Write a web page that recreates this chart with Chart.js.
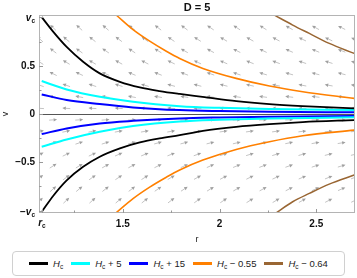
<!DOCTYPE html>
<html>
<head>
<meta charset="utf-8">
<script src="https://cdn.jsdelivr.net/npm/chart.js@4/dist/chart.umd.min.js"></script>
<style>
  body { margin: 0; background: #fff; font-family: "Liberation Sans", Arial, sans-serif; }
  #wrap { position: relative; width: 357px; height: 278px; }
  #chart { position: absolute; left: 0; top: 0; }
  #legend { position: absolute; left: 12px; top: 251px; width: 333px; height: 25px; box-sizing: border-box;
    border: 1px solid #d0d0d0; border-radius: 4px; display: flex; align-items: center; justify-content: center;
    font-size: 9.5px; color: #222; white-space: nowrap; }
  .item { display: flex; align-items: center; margin: 0 4px; }
  .swatch { width: 19px; height: 3px; margin-right: 5px; }
  .item sub { font-size: 6.5px; vertical-align: -2px; }
</style>
</head>
<body>
<div id="wrap">
  <canvas id="chart" width="357" height="245"></canvas>
  <div id="legend"></div>
</div>
<script>
// critical point and axis range
const rc = 1.082, vc = 1.01;
const rMin = 1.067, rMax = 2.7, vMin = -1.03, vMax = 1.03;

const xTickValues = [rc, 1.25, 1.5, 1.75, 2, 2.25, 2.5];
const xTickLabels = ['', '', '1.5', '', '2', '', '2.5'];
const yTickValues = [-vc, -0.75, -0.5, -0.25, 0, 0.25, 0.5, 0.75, vc];
const yTickLabels = ['', '', '\u22120.5', '', '0', '', '0.5', '', ''];

// H = Hc
const blackUpR = [1.081, 1.141, 1.21, 1.295, 1.381, 1.485, 1.588, 1.69, 1.794, 1.912, 2.087, 2.258, 2.428, 2.696];
const blackUpV = [1.01, 0.857, 0.70, 0.545, 0.424, 0.336, 0.278, 0.24, 0.21, 0.18, 0.135, 0.104, 0.083, 0.059];
const blackLoR = [1.084, 1.141, 1.21, 1.295, 1.381, 1.485, 1.588, 1.69, 1.794, 1.914, 2.086, 2.258, 2.43, 2.696];
const blackLoV = [-1.01, -0.85, -0.69, -0.549, -0.444, -0.357, -0.295, -0.253, -0.219, -0.174, -0.132, -0.104, -0.083, -0.062];
// H = Hc + 5
const cyanUpR = [1.081, 1.21, 1.381, 1.553, 1.794, 2.0, 2.258, 2.696];
const cyanUpV = [0.344, 0.257, 0.18, 0.128, 0.083, 0.065, 0.052, 0.042];
const cyanLoR = [1.081, 1.21, 1.381, 1.553, 1.794, 2.0, 2.258, 2.696];
const cyanLoV = [-0.34, -0.264, -0.184, -0.125, -0.078, -0.06, -0.047, -0.034];
// H = Hc + 15
const blueUpR = [1.081, 1.21, 1.381, 1.553, 1.794, 2.0, 2.258, 2.696];
const blueUpV = [0.205, 0.146, 0.104, 0.07, 0.042, 0.032, 0.025, 0.018];
const blueLoR = [1.081, 1.21, 1.381, 1.553, 1.794, 2.0, 2.258, 2.696];
const blueLoV = [-0.208, -0.149, -0.097, -0.07, -0.045, -0.035, -0.027, -0.02];
// H = Hc - 0.55
const orangeUpR = [1.467, 1.553, 1.639, 1.725, 1.794, 1.914, 2.086, 2.258, 2.43, 2.696];
const orangeUpV = [1.03, 0.88, 0.76, 0.655, 0.58, 0.476, 0.372, 0.292, 0.233, 0.164];
const orangeLoR = [1.464, 1.553, 1.639, 1.725, 1.794, 1.914, 2.086, 2.258, 2.43, 2.696];
const orangeLoV = [-1.03, -0.88, -0.76, -0.657, -0.582, -0.479, -0.368, -0.288, -0.226, -0.167];
// H = Hc - 0.64
const brownUpR = [2.284, 2.378, 2.464, 2.567, 2.696];
const brownUpV = [1.03, 0.927, 0.84, 0.736, 0.632];
const brownLoR = [2.284, 2.378, 2.464, 2.567, 2.696];
const brownLoV = [-1.04, -0.913, -0.826, -0.729, -0.635];

const seriesNames = ['', ' + 5', ' + 15', ' \u2212 0.55', ' \u2212 0.64'];
const seriesColors = ['#000000', '#00ffff', '#0000ff', '#ff8000', '#996633'];
const seriesWidths = [1.8, 2, 2, 1.6, 1.5];

// vector field grid (staggered rows)
const arrowRowsV = [0.90, 0.78, 0.66, 0.54, 0.42, 0.30, 0.18, 0.06, -0.06, -0.18, -0.30, -0.42, -0.54, -0.66, -0.78, -0.90];
const arrowColsA = [1.072, 1.208, 1.343, 1.479, 1.614, 1.75, 1.886, 2.021, 2.157, 2.292, 2.428, 2.564, 2.699];
const arrowColsB = [1.140, 1.275, 1.411, 1.547, 1.682, 1.818, 1.953, 2.089, 2.225, 2.36, 2.496, 2.631];
// tilt in degrees for |v| = 0.90 ... 0.06, at left and right edge
const arrowTiltLeft = [45, 42, 38, 33, 27, 20, 12, 4];
const arrowTiltRight = [26, 23, 20, 16, 13, 9, 6, 2];

const FONT = '"Liberation Sans", Arial, sans-serif';

function pts(rs, vs) {
  return rs.map((r, i) => ({ x: r, y: vs[i] }));
}

const curves = [
  [blackUpR, blackUpV, blackLoR, blackLoV],
  [cyanUpR, cyanUpV, cyanLoR, cyanLoV],
  [blueUpR, blueUpV, blueLoR, blueLoV],
  [orangeUpR, orangeUpV, orangeLoR, orangeLoV],
  [brownUpR, brownUpV, brownLoR, brownLoV]
];

const datasets = [];
curves.forEach((c, i) => {
  [[c[0], c[1]], [c[2], c[3]]].forEach(function (b) {
    datasets.push({
      data: pts(b[0], b[1]),
      borderColor: seriesColors[i],
      borderWidth: seriesWidths[i],
      pointRadius: 0,
      fill: false,
      cubicInterpolationMode: 'monotone'
    });
  });
});

function subText(ctx, pre, main, sub, x, baseline, align) {
  ctx.font = 'bold 10px ' + FONT;
  const w1 = ctx.measureText(pre).width;
  ctx.font = 'italic bold 10px ' + FONT;
  const w2 = ctx.measureText(main).width;
  ctx.font = 'bold 6.5px ' + FONT;
  const w3 = ctx.measureText(sub).width;
  const w = w1 + w2 + w3;
  let x0 = align === 'right' ? x - w : (align === 'center' ? x - w / 2 : x);
  ctx.textAlign = 'left';
  ctx.textBaseline = 'alphabetic';
  ctx.font = 'bold 10px ' + FONT;
  ctx.fillText(pre, x0, baseline);
  ctx.font = 'italic bold 10px ' + FONT;
  ctx.fillText(main, x0 + w1, baseline);
  ctx.font = 'bold 6.5px ' + FONT;
  ctx.fillText(sub, x0 + w1 + w2, baseline + 2);
}

const fieldPlugin = {
  id: 'field',
  beforeDatasetsDraw(chart) {
    const { ctx, chartArea: a, scales: { x, y } } = chart;
    ctx.save();
    ctx.beginPath();
    ctx.rect(a.left, a.top, a.right - a.left, a.bottom - a.top);
    ctx.clip();
    ctx.fillStyle = '#a0a0a0';
    ctx.strokeStyle = '#c4c4c4';
    ctx.lineWidth = 1;
    arrowRowsV.forEach(function (v, i) {
      const cols = i % 2 === 0 ? arrowColsB : arrowColsA;
      const k = v > 0 ? i : arrowRowsV.length - 1 - i;
      cols.forEach(function (r) {
        const f = (r - rMin) / (rMax - rMin);
        const tilt = arrowTiltLeft[k] + (arrowTiltRight[k] - arrowTiltLeft[k]) * f;
        const ang = (v > 0 ? 180 - tilt : tilt) * Math.PI / 180;
        const dx = Math.cos(ang), dy = -Math.sin(ang);
        const cx = x.getPixelForValue(r), cy = y.getPixelForValue(v);
        const L = 4;
        const tx = cx + dx * L, ty = cy + dy * L;
        const bx = tx - dx * 3.5, by = ty - dy * 3.5;
        ctx.beginPath();
        ctx.moveTo(cx - dx * L, cy - dy * L);
        ctx.lineTo(bx, by);
        ctx.stroke();
        ctx.beginPath();
        ctx.moveTo(tx, ty);
        ctx.lineTo(bx - dy * 1.7, by + dx * 1.7);
        ctx.lineTo(bx + dy * 1.7, by - dx * 1.7);
        ctx.closePath();
        ctx.fill();
      });
    });
    // v = 0 axis
    const y0 = Math.round(y.getPixelForValue(0)) + 0.5;
    ctx.strokeStyle = '#555';
    ctx.beginPath();
    ctx.moveTo(a.left, y0);
    ctx.lineTo(a.right, y0);
    ctx.stroke();
    ctx.restore();
  },
  afterDraw(chart) {
    const { ctx, chartArea: a, scales: { x, y } } = chart;
    ctx.save();
    // frame
    ctx.strokeStyle = '#b4b4b4';
    ctx.lineWidth = 1;
    ctx.strokeRect(Math.round(a.left) + 0.5, Math.round(a.top) + 0.5,
      Math.round(a.right - a.left) - 1, Math.round(a.bottom - a.top) - 1);
    // inward ticks
    ctx.strokeStyle = '#999';
    ctx.beginPath();
    xTickValues.forEach(function (v, i) {
      const px = Math.round(x.getPixelForValue(v)) + 0.5;
      const len = xTickLabels[i] || v === rc ? 4 : 2.5;
      ctx.moveTo(px, a.bottom);
      ctx.lineTo(px, a.bottom - len);
    });
    yTickValues.forEach(function (v, i) {
      const py = Math.round(y.getPixelForValue(v)) + 0.5;
      const len = yTickLabels[i] || Math.abs(v) === vc ? 4 : 2.5;
      ctx.moveTo(a.left, py);
      ctx.lineTo(a.left + len, py);
    });
    ctx.stroke();
    // labels with subscripts
    ctx.fillStyle = '#111';
    subText(ctx, '', 'r', 'c', x.getPixelForValue(rc), a.bottom + 13, 'center');
    subText(ctx, '', 'v', 'c', a.left - 4, y.getPixelForValue(vc) + 3.5, 'right');
    subText(ctx, '\u2212', 'v', 'c', a.left - 4, y.getPixelForValue(-vc) + 3.5, 'right');
    ctx.restore();
  }
};

const chart = new Chart(document.getElementById('chart'), {
  type: 'line',
  data: { datasets: datasets },
  options: {
    responsive: false,
    animation: false,
    events: [],
    layout: { padding: { right: 2 } },
    plugins: {
      legend: { display: false },
      tooltip: { enabled: false },
      title: {
        display: true, text: 'D = 5', fullSize: false, color: '#111',
        font: { family: FONT, size: 11, weight: 'bold' },
        padding: { top: 1, bottom: 1 }
      }
    },
    scales: {
      x: {
        type: 'linear', min: rMin, max: rMax,
        afterBuildTicks: function (s) { s.ticks = xTickValues.map(v => ({ value: v })); },
        afterFit: function (s) { s.height = 32; },
        grid: { display: false, drawTicks: false },
        border: { display: false },
        ticks: {
          autoSkip: false, maxRotation: 0, padding: 5, color: '#111',
          font: { family: FONT, size: 10, weight: 'bold' },
          callback: function (v, i) { return xTickLabels[i]; }
        },
        title: { display: true, text: 'r', color: '#222', font: { family: FONT, size: 9 }, padding: { top: 3, bottom: 0 } }
      },
      y: {
        type: 'linear', min: vMin, max: vMax,
        afterBuildTicks: function (s) { s.ticks = yTickValues.map(v => ({ value: v })); },
        afterFit: function (s) { s.width = 39; },
        grid: { display: false, drawTicks: false },
        border: { display: false },
        ticks: {
          autoSkip: false, padding: 4, color: '#111',
          font: { family: FONT, size: 10, weight: 'bold' },
          callback: function (v, i) { return yTickLabels[i]; }
        },
        title: { display: true, text: 'v', color: '#222', font: { family: FONT, size: 9 }, padding: { top: 0, bottom: 2 } }
      }
    }
  },
  plugins: [fieldPlugin]
});

// legend
const legend = document.getElementById('legend');
seriesNames.forEach(function (n, i) {
  const item = document.createElement('div');
  item.className = 'item';
  item.innerHTML = '<span class="swatch" style="background:' + seriesColors[i] + '"></span>' +
    '<span><i>H</i><sub>c</sub>' + n + '</span>';
  legend.appendChild(item);
});
</script>
</body>
</html>
